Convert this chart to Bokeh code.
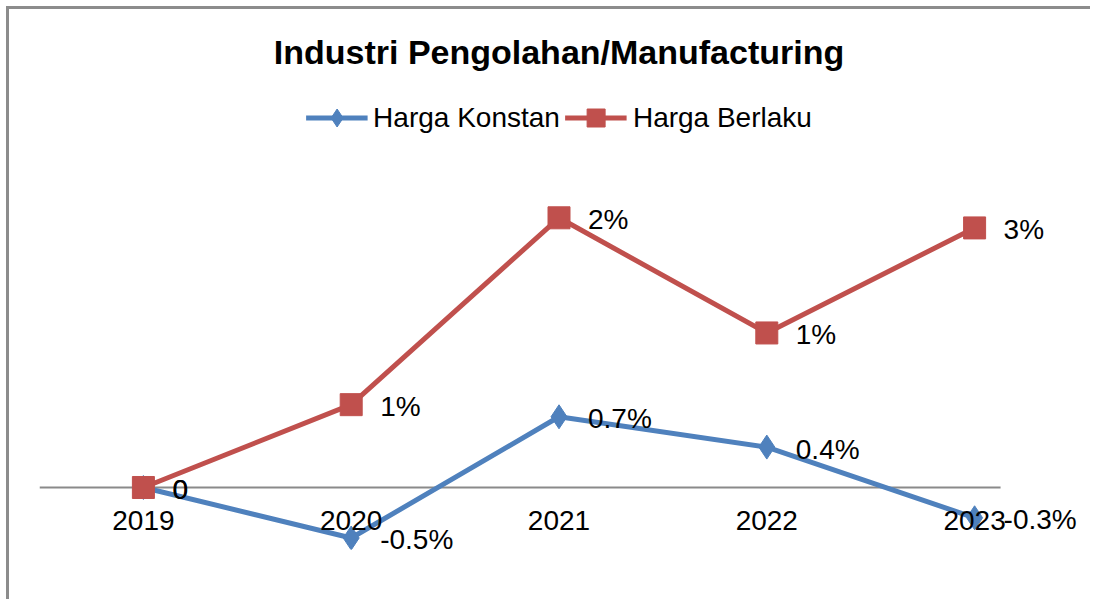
from bokeh.plotting import figure
from bokeh.models import FactorRange, Range1d, ColumnDataSource, LabelSet, Legend, LegendItem
from bokeh.core.properties import value
from bokeh.embed import file_html
from bokeh.resources import INLINE

# ---- data ----
years = ["2019", "2020", "2021", "2022", "2023"]
konstan = [0.0, -0.5, 0.7, 0.4, -0.3]
berlaku = [0.0, 0.82, 2.67, 1.53, 2.57]
konstan_labels = ["0", "-0.5%", "0.7%", "0.4%", "-0.3%"]
berlaku_labels = ["0", "1%", "2%", "1%", "3%"]
title_text = "Industri Pengolahan/Manufacturing"
series_names = ["Harga Konstan", "Harga Berlaku"]

BLUE = "#4F81BD"
RED = "#C0504D"
GREY = "#8c8c8c"
FONT = "Liberation Sans"
FS = "28px"

src_k = ColumnDataSource(dict(x=years, y=konstan, t=konstan_labels))
src_b = ColumnDataSource(dict(x=years, y=berlaku, t=berlaku_labels))

p = figure(
    x_range=FactorRange(factors=years, range_padding=0),
    y_range=Range1d(-0.614, 3.98),
    width=1090, height=599,
    output_backend="svg", toolbar_location=None,
    y_axis_location=None,
    min_border_left=39, min_border_right=12,
    min_border_top=85, min_border_bottom=50,
    title=title_text,
)
p.styles = {
    "background-color": "white",
    "background-image": f"linear-gradient({GREY}, {GREY}), linear-gradient({GREY}, {GREY})",
    "background-size": "3px 100%, 100% 3px",
    "background-position": "6px 6px, 6px 6px",
    "background-repeat": "no-repeat",
}
p.border_fill_alpha = 0
p.outline_line_color = None
p.xgrid.visible = False
p.ygrid.visible = False
p.background_fill_color = "white"

p.title.align = "center"
p.title.text_font = FONT
p.title.text_font_size = "34px"
p.title.text_font_style = "bold"
p.title.text_color = "black"
p.title.standoff = 29

# zero line
p.segment(x0=[0], y0=[0], x1=[4.625], y1=[0], line_color="#8a8a8a", line_width=2)

ax = p.xaxis[0]
ax.fixed_location = 0
ax.axis_line_color = None
ax.major_tick_line_color = None
ax.minor_tick_line_color = None
ax.major_label_text_font = FONT
ax.major_label_text_font_size = FS
ax.major_label_text_color = "black"
ax.major_label_standoff = 18

lk = p.line("x", "y", source=src_k, line_color=BLUE, line_width=5)
mk = p.scatter("x", "y", source=src_k, marker="diamond", size=24,
               fill_color=BLUE, line_color=BLUE)
lb = p.line("x", "y", source=src_b, line_color=RED, line_width=5)
mb = p.scatter("x", "y", source=src_b, marker="square", size=22,
               fill_color=RED, line_color=RED)

for src in (src_k, src_b):
    p.add_layout(LabelSet(x="x", y="y", text="t", source=src, x_offset=29, y_offset=-2,
                          text_baseline="middle", text_font=value(FONT),
                          text_font_size=value(FS), text_color="black"))

legend = Legend(items=[LegendItem(label=series_names[0], renderers=[lk, mk]),
                       LegendItem(label=series_names[1], renderers=[lb, mb])],
                location="top_center", orientation="horizontal",
                glyph_width=62, glyph_height=45, label_standoff=6, spacing=5,
                padding=0, margin=10, border_line_color=None,
                background_fill_alpha=0,
                label_text_font=FONT, label_text_font_size=FS,
                label_text_color="black")
p.add_layout(legend)

open("out.html", "w").write(file_html(p, INLINE))
